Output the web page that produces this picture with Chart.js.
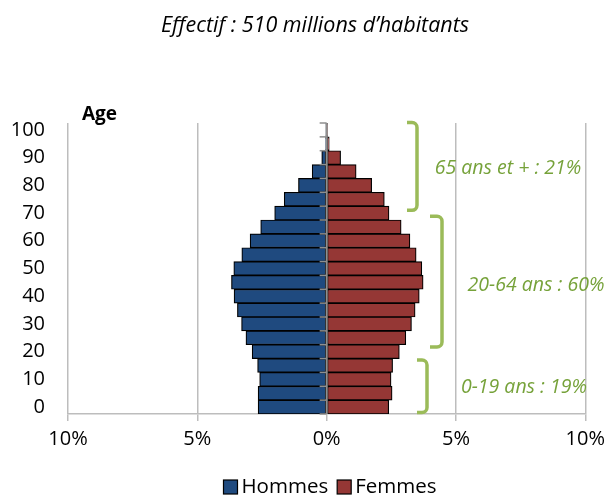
<!DOCTYPE html>
<html><head><meta charset="utf-8">
<script src="https://cdn.jsdelivr.net/npm/chart.js@4/dist/chart.umd.min.js"></script>
<style>html,body{margin:0;padding:0;background:#fff}#wrap{width:611px;height:495px;position:relative}</style>
</head><body><div id="wrap"><canvas id="c"></canvas></div>
<script>
// ---- data ----
const categories = ['0-4','5-9','10-14','15-19','20-24','25-29','30-34','35-39','40-44','45-49','50-54','55-59','60-64','65-69','70-74','75-79','80-84','85-89','90-94','95-99','100+'];
const ageTickLabels = ['0','10','20','30','40','50','60','70','80','90','100'];
const hommes = [2.65,2.65,2.59,2.67,2.88,3.12,3.29,3.45,3.58,3.68,3.59,3.28,2.96,2.55,2.01,1.64,1.09,0.56,0.19,0.04,0.01];
const femmes = [2.40,2.53,2.49,2.55,2.81,3.06,3.28,3.42,3.58,3.73,3.68,3.46,3.22,2.88,2.41,2.23,1.74,1.14,0.54,0.10,0.01];
const seriesNames = ['Hommes','Femmes'];
const groupLabels = ['0-19 ans : 19%','20-64 ans : 60%','65 ans et + : 21%'];
const groupSpans = [[0,3],[4,12],[13,20]];
const titleText = 'Effectif : 510 millions d\u2019habitants';
const axisTitle = 'Age';

// ---- styles ----
const FONT = "'Open Sans', sans-serif";
const colors = ['#1F4A7F','#953735'];
const GRID = '#BDBDBD';
const AXIS = '#8F8F8F';
const GREEN_LINE = '#9BBB59';
const GREEN_TEXT = '#76A23A';
// bracket styling (pixel adjustments of the hand-drawn annotation)
const bracketStyle = [
  {vx:427, arm:10, extTop:0,  dBot:0,   tx:524, ty:387},
  {vx:442, arm:12, extTop:19, dBot:-10, tx:536, ty:285},
  {vx:417, arm:10, extTop:2,  dBot:-22, tx:508, ty:168}
];

const overlay = {
  id:'overlay',
  afterDatasetsDraw(chart){
    const {ctx, chartArea:a, scales:{x:xs, y:ys}} = chart;
    const band = Math.abs(ys.getPixelForValue(1) - ys.getPixelForValue(0));
    const x0 = xs.getPixelForValue(0);
    ctx.save();
    // central axis with tick marks
    ctx.strokeStyle = AXIS; ctx.lineWidth = 2;
    ctx.beginPath(); ctx.moveTo(x0, a.top); ctx.lineTo(x0, a.bottom); ctx.stroke();
    ctx.lineWidth = 1.5;
    for (let i = 0; i <= categories.length; i++) {
      const y = ys.getPixelForValue(i) + band/2;
      ctx.beginPath(); ctx.moveTo(x0 - 7, y); ctx.lineTo(x0, y); ctx.stroke();
    }
    // title
    ctx.fillStyle = '#000';
    ctx.font = 'italic 21.5px ' + FONT;
    ctx.textAlign = 'center'; ctx.textBaseline = 'middle';
    ctx.fillText(titleText, 315, 26);
    // axis title
    ctx.font = 'bold 19px ' + FONT;
    ctx.textAlign = 'left'; ctx.textBaseline = 'alphabetic';
    ctx.fillText(axisTitle, a.left + 14, a.top - 3);
    // brackets
    groupSpans.forEach((sp, k) => {
      const st = bracketStyle[k];
      const bot = ys.getPixelForValue(sp[0]) + band/2 + st.dBot;
      const top = ys.getPixelForValue(sp[1]) - band/2 - st.extTop;
      const r = 5, ax = st.vx - st.arm;
      ctx.strokeStyle = GREEN_LINE; ctx.lineWidth = 3.5; ctx.lineCap = 'butt';
      ctx.beginPath();
      ctx.moveTo(ax, top + 1.5);
      ctx.arcTo(st.vx, top + 1.5, st.vx, top + 1.5 + r, r);
      ctx.lineTo(st.vx, bot - 1.5 - r);
      ctx.arcTo(st.vx, bot - 1.5, ax, bot - 1.5, r);
      ctx.lineTo(ax, bot - 1.5);
      ctx.stroke();
      ctx.fillStyle = GREEN_TEXT;
      ctx.font = 'italic 19.5px ' + FONT;
      ctx.textAlign = 'center'; ctx.textBaseline = 'middle';
      ctx.fillText(groupLabels[k], st.tx, st.ty);
    });
    // legend
    ctx.font = '20.5px ' + FONT;
    const box = 14, gapBT = 4, gapItem = 9;
    const widths = chart.data.datasets.map(d => box + gapBT + ctx.measureText(d.label).width);
    const total = widths.reduce((s, w) => s + w, 0) + gapItem * (widths.length - 1);
    let lx = 330 - total/2; const ly = 487;
    chart.data.datasets.forEach((d, i) => {
      ctx.fillStyle = d.backgroundColor; ctx.fillRect(lx, ly - box/2, box, box);
      ctx.strokeStyle = '#000'; ctx.lineWidth = 1.2; ctx.strokeRect(lx, ly - box/2, box, box);
      ctx.fillStyle = '#000'; ctx.textAlign = 'left'; ctx.textBaseline = 'middle';
      ctx.fillText(d.label, lx + box + gapBT, ly);
      lx += widths[i] + gapItem;
    });
    ctx.restore();
  }
};

new Chart(document.getElementById('c'), {
  type: 'bar',
  data: {
    labels: categories,
    datasets: [
      {label: seriesNames[0], data: hommes.map(v => -v), backgroundColor: colors[0], borderColor: '#000', borderWidth: 1.2, borderSkipped: false, barPercentage: 1, categoryPercentage: 1},
      {label: seriesNames[1], data: femmes, backgroundColor: colors[1], borderColor: '#000', borderWidth: 1.2, borderSkipped: false, barPercentage: 1, categoryPercentage: 1}
    ]
  },
  options: {
    responsive: true, maintainAspectRatio: false, animation: false,
    indexAxis: 'y',
    layout: {padding: {top: 123, right: 23, left: 0, bottom: 0}},
    plugins: {legend: {display: false}, tooltip: {enabled: false}, title: {display: false}},
    scales: {
      x: {
        type: 'linear', min: -10, max: 10, stacked: true,
        ticks: {stepSize: 5, callback: v => Math.abs(v) + '%', font: {family: FONT, size: 20}, color: '#000', padding: 6, maxRotation: 0},
        grid: {color: GRID, lineWidth: 1.5, tickLength: 7, tickColor: GRID},
        border: {color: GRID, width: 1.5},
        afterFit: s => { s.height = 81; }
      },
      y: {
        type: 'category', reverse: true, stacked: true,
        ticks: {autoSkip: false, callback: (v, i) => (i % 2 === 0 ? ageTickLabels[i/2] : ''), font: {family: FONT, size: 20}, color: '#000', padding: 23},
        grid: {display: false, drawTicks: false},
        border: {display: false},
        afterFit: s => { s.width = 68; }
      }
    }
  },
  plugins: [overlay]
});
</script></body></html>
